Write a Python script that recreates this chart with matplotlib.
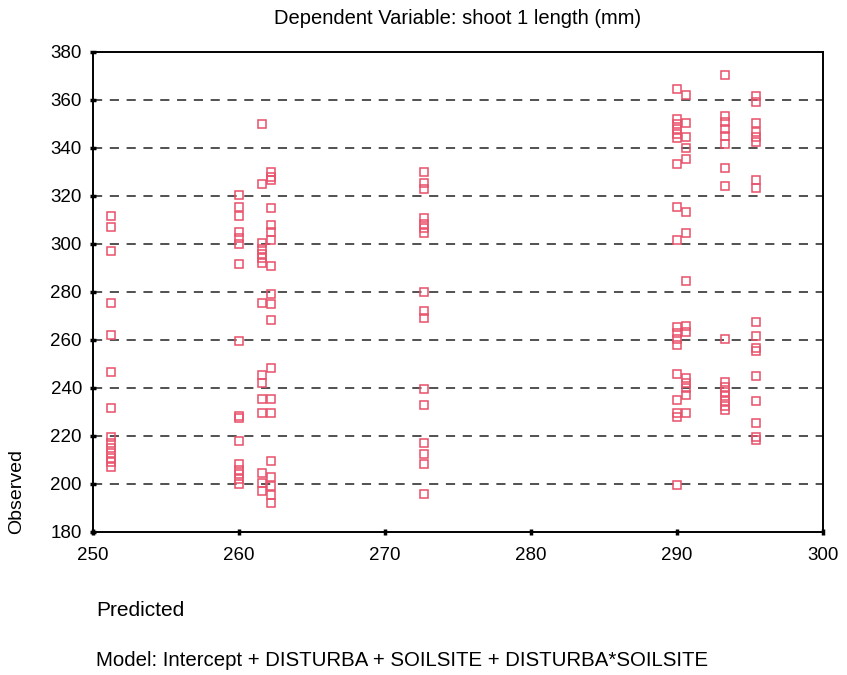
import matplotlib
matplotlib.use("Agg")
import matplotlib.pyplot as plt

plt.rcParams['font.family'] = ['Liberation Sans', 'DejaVu Sans']

# Predicted values (one per group) and the observed shoot lengths for each group
predicted = [251.2, 260.0, 261.6, 262.2, 272.7, 290.0, 290.6, 293.3, 295.4]
observed = [
    [311.5, 307, 297, 275.5, 262, 246.5, 231.5, 219.5, 217, 215, 213, 211, 209, 207],
    [320.5, 315.5, 311.5, 305, 302.5, 300, 291.5, 259.5, 228.5, 227.5, 218,
     208.5, 206, 204, 202, 200],
    [350, 325, 300.5, 298, 296, 294, 292, 275.5, 245.5, 242, 235.5, 229.5,
     204.5, 200.5, 197],
    [330, 328, 326.5, 315, 308, 305, 301.5, 291, 279, 275, 268.5, 248.5, 235.5,
     229.5, 209.5, 203, 199, 195.5, 192],
    [330, 325.5, 323, 311, 308.5, 306.5, 304.5, 280, 272, 269, 239.5, 233, 217,
     212.5, 208.5, 196],
    [364.5, 352, 350, 348, 346, 344, 333.5, 315.5, 301.5, 265.5, 263, 260.5,
     258, 246, 235, 229.5, 228, 199.5],
    [362, 350.5, 344.5, 340, 335.5, 313.5, 304.5, 284.5, 266, 263.5, 244, 242,
     240, 237, 229.5],
    [370.5, 353.5, 351, 348, 345, 341.5, 331.5, 324, 260.5, 242.5, 240.5,
     238.5, 236.5, 234.5, 232.5, 231],
    [361.5, 359, 350.5, 346.5, 344.5, 342.5, 326.5, 323.5, 267.5, 261.5, 256.5,
     255.5, 245, 234.5, 225.5, 219.5, 218.5],
]
x_ticks = [250, 260, 270, 280, 290, 300]
y_ticks = [180, 200, 220, 240, 260, 280, 300, 320, 340, 360, 380]
grid_levels = [200, 220, 240, 260, 280, 300, 320, 340, 360]

xs, ys = [], []
for p, obs in zip(predicted, observed):
    xs.extend([p] * len(obs))
    ys.extend(obs)

fig = plt.figure(figsize=(8.47, 6.75), dpi=100)
ax = fig.add_axes([93 / 847, 1 - 532 / 675, 730 / 847, 480 / 675])

for g in grid_levels:
    ax.axhline(g, color='#222222', lw=1.1, ls=(0, (6, 5)), zorder=1)

ax.plot(xs, ys, ls='none', marker='s', ms=6, mfc='none', mec='#e8506a',
        mew=1.1, zorder=3)

ax.set_xlim(250, 300)
ax.set_ylim(180, 380)
ax.set_xticks(x_ticks)
ax.set_yticks(y_ticks)
ax.tick_params(axis='both', direction='inout', length=4, width=2.5,
               labelsize=13.5, color='black')
ax.tick_params(axis='x', pad=9)
ax.tick_params(axis='y', pad=6)
for s in ax.spines.values():
    s.set_linewidth(1.4)
    s.set_color('black')

fig.text(458 / 847, 1 - 18 / 675, 'Dependent Variable: shoot 1 length (mm)',
         ha='center', va='center', fontsize=14.5)
fig.text(17 / 847, 1 - 492 / 675, 'Observed', rotation=90,
         ha='center', va='center', fontsize=14)
fig.text(96 / 847, 1 - 610 / 675, 'Predicted', ha='left', va='center',
         fontsize=15)
fig.text(96 / 847, 1 - 660 / 675,
         'Model: Intercept + DISTURBA + SOILSITE + DISTURBA*SOILSITE',
         ha='left', va='center', fontsize=14.7)

fig.savefig('out.png', dpi=100)
